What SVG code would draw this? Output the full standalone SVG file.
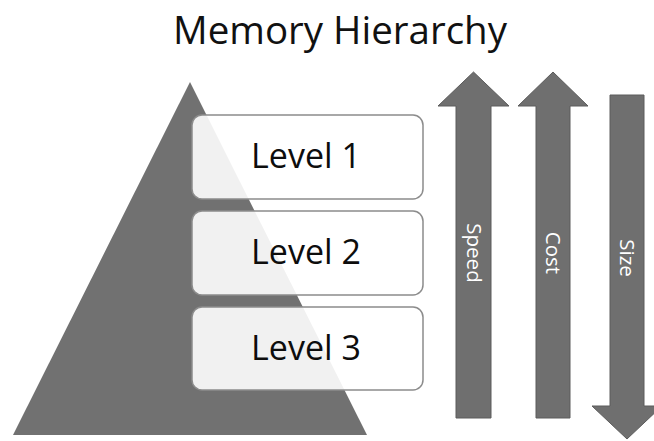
<svg xmlns="http://www.w3.org/2000/svg" width="654" height="441" viewBox="0 0 654 441">
  <style>
    .title { font-family: "Open Sans", "Liberation Sans", sans-serif; font-size: 38.5px; fill: #111111; }
    .box { fill: #ffffff; fill-opacity: 0.9; stroke: #8c8c8c; stroke-width: 1.5; }
    .lvl { font-family: "Open Sans", "Liberation Sans", sans-serif; font-size: 34px; fill: #0d0d0d; }
    .arrow { fill: #6f6f6f; stroke: #5c5c5c; stroke-width: 1; }
    .alabel { font-family: "Open Sans", "Liberation Sans", sans-serif; font-size: 20.5px; fill: #ffffff; }
  </style>
  <rect x="0" y="0" width="654" height="441" fill="#ffffff"/>
  <text class="title" x="340" y="44" text-anchor="middle">Memory Hierarchy</text>

  <g id="pyramid">
    <polygon points="190,82 13,435 367,435" fill="#717171"/>
  </g>

  <g id="level1">
    <rect class="box" x="192" y="115" width="231" height="84" rx="10" ry="10"/>
    <text class="lvl" x="306" y="168" text-anchor="middle">Level 1</text>
  </g>
  <g id="level2">
    <rect class="box" x="192" y="211" width="231" height="84" rx="10" ry="10"/>
    <text class="lvl" x="306" y="264" text-anchor="middle">Level 2</text>
  </g>
  <g id="level3">
    <rect class="box" x="192" y="307" width="231" height="83" rx="10" ry="10"/>
    <text class="lvl" x="306" y="360" text-anchor="middle">Level 3</text>
  </g>

  <g id="connectors">
    <g id="speed">
      <polygon class="arrow" points="473.5,72 509,106 491,106 491,418 456,418 456,106 438,106"/>
      <text class="alabel" transform="translate(473.5,253) rotate(90)" text-anchor="middle" dy="7">Speed</text>
    </g>
    <g id="cost">
      <polygon class="arrow" points="553,72 588,106 570,106 570,418 536,418 536,106 518,106"/>
      <text class="alabel" transform="translate(553,253) rotate(90)" text-anchor="middle" dy="7">Cost</text>
    </g>
    <g id="size">
      <polygon class="arrow" points="610,95 644,95 644,406 662,406 627,439 592,406 610,406"/>
      <text class="alabel" transform="translate(627,258) rotate(90)" text-anchor="middle" dy="7">Size</text>
    </g>
  </g>
</svg>
